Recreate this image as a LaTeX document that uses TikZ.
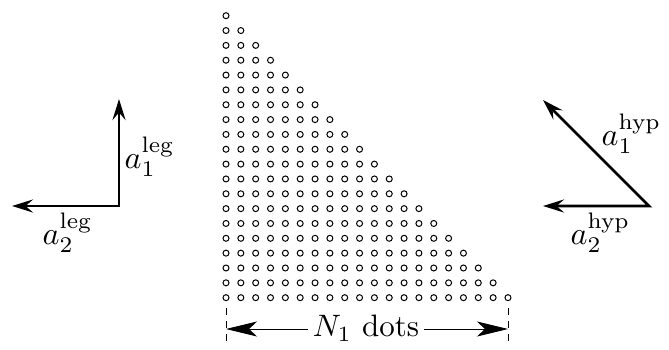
\documentclass[tikz,border=0pt]{standalone}
\usetikzlibrary{arrows.meta}
\begin{document}
\begin{tikzpicture}[x=1pt,y=-1pt,
  vec/.style={line width=2.8pt,{Stealth[length=21pt,width=13pt,inset=7.5pt]}-{Stealth[length=21pt,width=13pt,inset=7.5pt]}},
  dimline/.style={line width=0.8pt,-{Stealth[length=31pt,width=15pt,inset=8pt]}},
  tick/.style={line width=0.9pt,dash pattern=on 7pt off 6pt},
  lbl/.style={scale=3.2,inner sep=0pt,anchor=base west},
  dot/.style={line width=1pt}]
\useasboundingbox (0,0) rectangle (669,349);
% dot triangle
\foreach \r in {1,...,20}{
  \foreach \c in {1,...,\r}{
    \draw[dot] ({226+(\c-1)*14.84},{15.7+(\r-1)*14.84}) circle[radius=3pt];
  }
}
% left vectors
\coordinate (oL) at (119,206);
\coordinate (upL) at (119,99);
\coordinate (leftL) at (12,206);
\draw[vec] (upL) -- (oL) -- (leftL);
\node[lbl] (a1leg) at (124,168) {$a_1^{\mathrm{leg}}$};
\node[lbl] (a2leg) at (42,244) {$a_2^{\mathrm{leg}}$};
% right vectors
\coordinate (oR) at (649,206);
\coordinate (diagR) at (543,100);
\coordinate (leftR) at (543,206);
\draw[vec] (diagR) -- (oR) -- (leftR);
\node[lbl] (a1hyp) at (601,145) {$a_1^{\mathrm{hyp}}$};
\node[lbl] (a2hyp) at (570,244) {$a_2^{\mathrm{hyp}}$};
% dimension
\coordinate (tl) at (226,329);
\coordinate (tr) at (508,329);
\draw[tick] (226,308) -- (226,346);
\draw[tick] (508,308) -- (508,346);
\node[scale=3.1,inner sep=1.4pt,anchor=base] (dims) at (366,336.8) {$N_1$ dots};
\draw[dimline] (dims.west |- tl) -- (tl);
\draw[dimline] (dims.east |- tr) -- (tr);
\end{tikzpicture}
\end{document}
